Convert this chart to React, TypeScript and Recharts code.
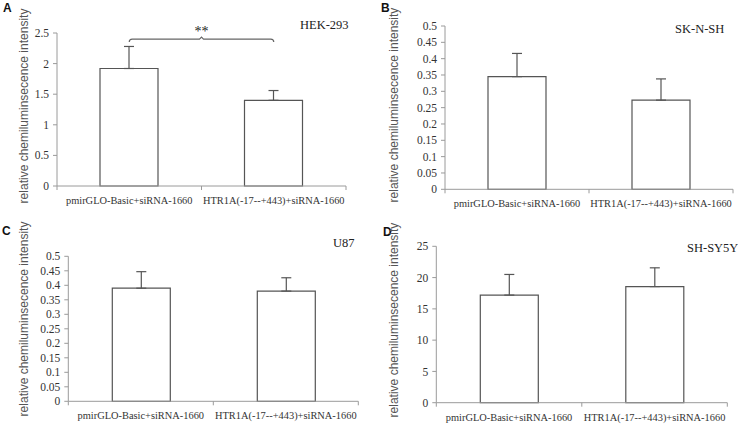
import React from "react";
import {
  BarChart,
  Bar,
  XAxis,
  YAxis,
  ErrorBar,
  ReferenceLine,
} from "recharts";

const categories = ["pmirGLO-Basic+siRNA-1660", "HTR1A(-17--+443)+siRNA-1660"];

const hekMeans = [1.92, 1.4];
const hekErrors = [0.36, 0.16];
const hekTicks = [0, 0.5, 1, 1.5, 2, 2.5];

const sknshMeans = [0.345, 0.273];
const sknshErrors = [0.071, 0.065];
const smallTicks = [0, 0.05, 0.1, 0.15, 0.2, 0.25, 0.3, 0.35, 0.4, 0.45, 0.5];

const u87Means = [0.39, 0.38];
const u87Errors = [0.057, 0.046];

const shsy5yMeans = [17.2, 18.56];
const shsy5yErrors = [3.3, 3.0];
const shsy5yTicks = [0, 5, 10, 15, 20, 25];

const hekBracket = 2.4;

const yLabel = "relative chemiluminsecence  intensity";

const SERIF = "'Liberation Serif', 'Times New Roman', serif";
const SANS = "'Liberation Sans', Arial, sans-serif";
const AXIS = "#9a9a9a";
const BAR = "#555";
const TEXT = "#333";

const BOX_W = 370;
const BOX_H = 212;

type Plot = { left: number; right: number; top: number; bottom: number };

type PanelProps = {
  x: number;
  y: number;
  plot: Plot;
  means: number[];
  errors: number[];
  ticks: number[];
  bracket?: number;
};

const buildRows = (means: number[], errors: number[]) =>
  categories.map((name, i) => ({ name, mean: means[i], err: [0, errors[i]] }));

const Bracket = (props: any) => {
  const { x1, x2, y1 } = props;
  const mid = (x1 + x2) / 2;
  const d = `M${x1},${y1 + 3} Q${x1},${y1} ${x1 + 3},${y1} L${mid - 2},${y1} L${mid},${y1 - 2} L${mid + 2},${y1} L${x2 - 3},${y1} Q${x2},${y1} ${x2},${y1 + 3}`;
  return (
    <g>
      <path d={d} fill="none" stroke="#666" strokeWidth={1.2} />
      <text x={mid} y={y1 - 3} textAnchor="middle" fontFamily={SERIF} fontSize={14} fill="#222">
        **
      </text>
    </g>
  );
};

const Panel = ({ x, y, plot, means, errors, ticks, bracket }: PanelProps) => {
  const rows = buildRows(means, errors);
  const left = plot.left - x;
  const right = x + BOX_W - plot.right;
  const top = plot.top - y;
  const axisH = y + BOX_H - plot.bottom;
  const band = (plot.right - plot.left) / categories.length;

  const XTick = (p: any) => {
    const { x: tx, y: ty, payload, index } = p;
    return (
      <g>
        {index === 0 && (
          <line x1={tx - band / 2} x2={tx - band / 2} y1={ty} y2={ty + 4} stroke={AXIS} />
        )}
        <line x1={tx + band / 2} x2={tx + band / 2} y1={ty} y2={ty + 4} stroke={AXIS} />
        <text x={tx} y={ty + 18} textAnchor="middle" fontFamily={SERIF} fontSize={10.4} fill={TEXT}>
          {payload.value}
        </text>
      </g>
    );
  };

  return (
    <div style={{ position: "absolute", left: x, top: y }}>
      <BarChart
        width={BOX_W}
        height={BOX_H}
        data={rows}
        margin={{ top, right, left: 0, bottom: 0 }}
      >
        <XAxis
          dataKey="name"
          height={axisH}
          axisLine={{ stroke: AXIS }}
          tickLine={false}
          tickSize={0}
          tickMargin={0}
          interval={0}
          tick={<XTick />}
        />
        <YAxis
          width={left}
          domain={[ticks[0], ticks[ticks.length - 1]]}
          ticks={ticks}
          interval={0}
          axisLine={{ stroke: AXIS }}
          tickLine={{ stroke: AXIS }}
          tickSize={4}
          tickMargin={4}
          tick={{ fontFamily: SERIF, fontSize: 11.5, fill: TEXT }}
        />
        <Bar
          dataKey="mean"
          fill="#fff"
          stroke={BAR}
          strokeWidth={1.2}
          barSize={58}
          isAnimationActive={false}
        >
          <ErrorBar dataKey="err" width={5} stroke={BAR} strokeWidth={1.2} direction="y" />
        </Bar>
        {bracket !== undefined && (
          <ReferenceLine
            segment={[
              { x: categories[0], y: bracket },
              { x: categories[1], y: bracket },
            ]}
            shape={<Bracket />}
          />
        )}
      </BarChart>
    </div>
  );
};

const panelText = [
  { letter: "A", lx: 3, ly: 12, title: "HEK-293", tx: 300, ty: 29, ax: 24, ay: 106 },
  { letter: "B", lx: 381, ly: 12, title: "SK-N-SH", tx: 675, ty: 33, ax: 394, ay: 105 },
  { letter: "C", lx: 2, ly: 235, title: "U87", tx: 333, ty: 247, ax: 24, ay: 319 },
  { letter: "D", lx: 383, ly: 236, title: "SH-SY5Y", tx: 687, ty: 252, ax: 394, ay: 320 },
];

export default function App() {
  return (
    <div
      style={{
        position: "absolute",
        left: 0,
        top: 0,
        width: 738,
        height: 424,
        background: "#fff",
        overflow: "hidden",
      }}
    >
      <Panel
        x={0}
        y={0}
        plot={{ left: 57, right: 346, top: 33, bottom: 186 }}
        means={hekMeans}
        errors={hekErrors}
        ticks={hekTicks}
        bracket={hekBracket}
      />
      <Panel
        x={368}
        y={0}
        plot={{ left: 445, right: 733, top: 26, bottom: 189.3 }}
        means={sknshMeans}
        errors={sknshErrors}
        ticks={smallTicks}
      />
      <Panel
        x={0}
        y={212}
        plot={{ left: 68.3, right: 358.3, top: 256.3, bottom: 401.3 }}
        means={u87Means}
        errors={u87Errors}
        ticks={smallTicks}
      />
      <Panel
        x={368}
        y={212}
        plot={{ left: 436.3, right: 727.3, top: 246.3, bottom: 402.7 }}
        means={shsy5yMeans}
        errors={shsy5yErrors}
        ticks={shsy5yTicks}
      />
      <svg
        width={738}
        height={424}
        style={{ position: "absolute", left: 0, top: 0, pointerEvents: "none" }}
      >
        {panelText.map((p) => (
          <g key={p.letter}>
            <text x={p.lx} y={p.ly} fontFamily={SANS} fontWeight="bold" fontSize={12} fill="#111">
              {p.letter}
            </text>
            <text x={p.tx} y={p.ty} fontFamily={SERIF} fontSize={12.5} fill="#222">
              {p.title}
            </text>
            <text
              x={p.ax}
              y={p.ay}
              transform={`rotate(-90 ${p.ax} ${p.ay})`}
              textAnchor="middle"
              dominantBaseline="central"
              fontFamily={SANS}
              fontSize={12}
              fill="#555"
            >
              {yLabel}
            </text>
          </g>
        ))}
      </svg>
    </div>
  );
}
